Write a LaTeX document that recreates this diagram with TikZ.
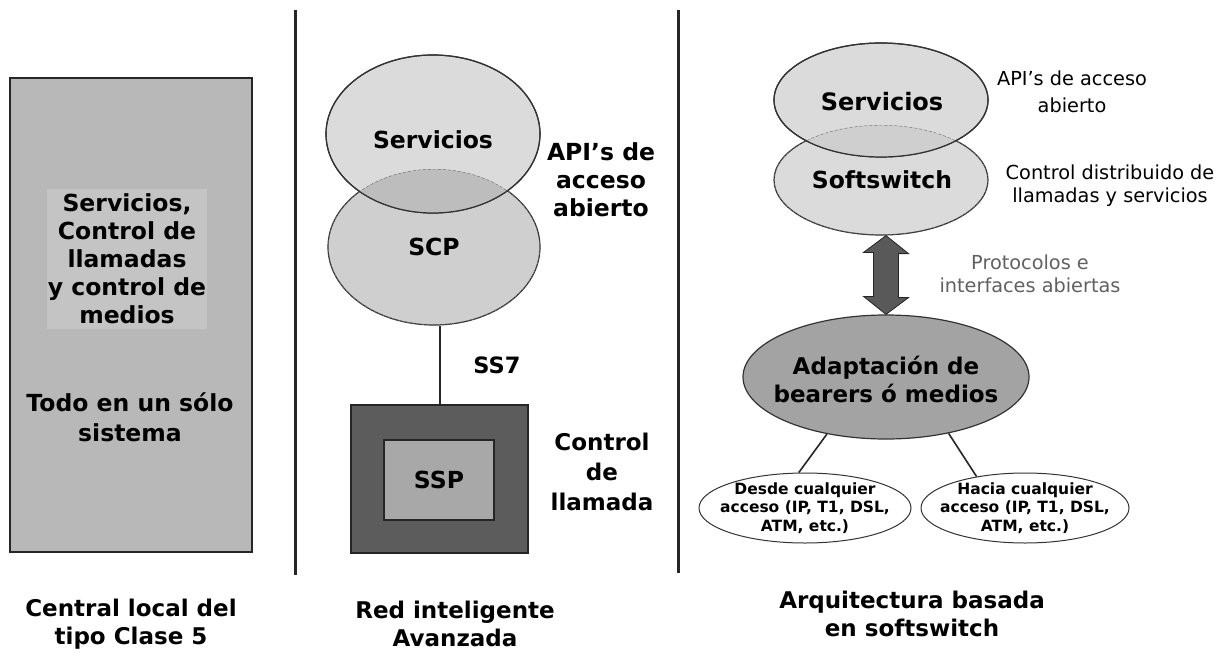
\documentclass[tikz,border=0pt]{standalone}
\usepackage{fontspec}
\setmainfont{DejaVu Sans}
\usetikzlibrary{shapes.geometric,arrows.meta}

\definecolor{boxgray}{gray}{0.72}
\definecolor{boxlight}{gray}{0.77}
\definecolor{servfill}{gray}{0.86}
\definecolor{scpfill}{gray}{0.81}
\definecolor{overlapfill}{gray}{0.74}
\definecolor{sspouter}{gray}{0.36}
\definecolor{sspinner}{gray}{0.66}
\definecolor{adaptfill}{gray}{0.64}
\definecolor{arrowfill}{gray}{0.35}
\definecolor{softtext}{gray}{0.38}

\tikzset{
  bigbold/.style={font=\bfseries\fontsize{23.5}{28}\selectfont, align=center, inner sep=0pt},
  sidebold/.style={font=\bfseries\fontsize{23}{28}\selectfont, align=center, inner sep=0pt},
  sidenote/.style={font=\fontsize{19.3}{23}\selectfont, align=center, inner sep=0pt},
  smallbold/.style={font=\bfseries\fontsize{15.5}{18.5}\selectfont, align=center, inner sep=0pt},
  caption/.style={font=\bfseries\fontsize{23}{28.5}\selectfont, align=center, inner sep=0pt},
  bubble/.style={ellipse, draw=black!80, line width=1.2pt, inner sep=0pt},
  divider/.style={line width=3pt, black!85},
  plainline/.style={line width=2pt, black!85},
}

\begin{document}
\begin{tikzpicture}[x=1pt,y=-1pt]
\useasboundingbox (0,0) rectangle (1225,653);
\fill[white] (0,0) rectangle (1225,653);

% ---------- Clase 5 switch ----------
\node[draw=black!85, line width=1.5pt, fill=boxgray, minimum width=242pt, minimum height=474pt, inner sep=0pt] (c5) at (131,315) {};
\node[bigbold, fill=boxlight, inner xsep=1pt, inner ysep=5pt] (c5txt) at (127,259)
  {Servicios,\\Control de\\llamadas\\y control de\\medios};
\node[bigbold, font=\bfseries\fontsize{23.5}{30}\selectfont] (c5all) at (130,417) {Todo en un sólo\\sistema};

\draw[divider] (295,10) -- (295,575);
\draw[divider] (678,10) -- (678,573);

% ---------- Red inteligente ----------
\node[bubble, fill=scpfill, minimum width=212pt, minimum height=156pt] (scp) at (434,247) {};
\node[bubble, fill=servfill, minimum width=214pt, minimum height=158pt] (srv) at (433,134) {};
\begin{scope}
  \clip (434,247) ellipse [x radius=106, y radius=78];
  \fill[overlapfill] (433,134) ellipse [x radius=107, y radius=79];
  \draw[black!55, line width=0.9pt, dash pattern=on 3pt off 2pt] (434,247) ellipse [x radius=106, y radius=78];
\end{scope}
\draw[black!80, line width=1.2pt] (433,134) ellipse [x radius=107, y radius=79];
\node[bigbold] at (srv.center) [yshift=-6pt] {Servicios};
\node[bigbold] at (scp.center) {SCP};

\node[draw=black!85, line width=1.2pt, fill=sspouter, minimum width=177pt, minimum height=148pt, inner sep=0pt] (sspbox) at (439.5,479) {};
\node[draw=black!85, line width=1.2pt, fill=sspinner, minimum width=110pt, minimum height=80pt, inner sep=0pt] (ssp) at (439,480) {};
\node[bigbold] at (ssp.center) {SSP};
\draw[plainline] (scp.south -| sspbox.north) -- (sspbox.north);
\node[sidebold, font=\bfseries\fontsize{22.5}{28}\selectfont] (ss7) at (497,365) {SS7};

\node[sidebold, font=\bfseries\fontsize{23.5}{28}\selectfont] (apimid) at (601,180) {API’s de\\acceso\\abierto};
\node[sidebold, font=\bfseries\fontsize{23}{30}\selectfont] (ctrl) at (602,472) {Control\\de\\llamada};

% ---------- Softswitch ----------
\node[bubble, fill=servfill, minimum width=214pt, minimum height=110pt] (sw) at (881,180) {};
\node[bubble, fill=servfill, minimum width=214pt, minimum height=114pt] (srv2) at (881,100) {};
\begin{scope}
  \clip (881,180) ellipse [x radius=107, y radius=55];
  \fill[scpfill] (881,100) ellipse [x radius=107, y radius=57];
  \draw[black!55, line width=0.9pt, dash pattern=on 3pt off 2pt] (881,180) ellipse [x radius=107, y radius=55];
\end{scope}
\draw[black!80, line width=1.2pt] (881,100) ellipse [x radius=107, y radius=57];
\node[bigbold, font=\bfseries\fontsize{24}{28}\selectfont] at (882,102) {Servicios};
\node[bigbold] at (882,180) {Softswitch};

\node[sidenote, font=\fontsize{19.3}{27}\selectfont] (api2) at (1072,91.5) {API’s de acceso\\abierto};
\node[sidenote] (dist) at (1110,186) {Control distribuido de\\llamadas y servicios};

\node[bubble, fill=adaptfill, minimum width=286pt, minimum height=124pt] (ad) at (886,377) {};
\node[sidebold] at (ad.center) [yshift=-2pt] {Adaptación de\\bearers ó medios};

% two-headed block arrow between the softswitch and the bearer layer
\coordinate (atop) at (ad.north |- sw.south);
\draw[draw=black!85, fill=arrowfill, line width=0.8pt]
  (atop) -- ++(22.5,18) -- ++(-10,0) -- ++(0,44) -- ++(10,0) -- (ad.north)
  -- ++(-22.5,-18) -- ++(10,0) -- ++(0,-44) -- ++(-10,0) -- cycle;
\node[sidenote, text=softtext] (proto) at (1030,273.5) {Protocolos e\\interfaces abiertas};

\node[bubble, fill=white, line width=1pt, minimum width=212pt, minimum height=70pt] (from) at (805,508) {};
\node[bubble, fill=white, line width=1pt, minimum width=208pt, minimum height=70pt] (to) at (1025,508) {};
\node[smallbold] at (from.center) {Desde cualquier\\acceso (IP, T1, DSL,\\ATM, etc.)};
\node[smallbold] at (to.center) {Hacia cualquier\\acceso (IP, T1, DSL,\\ATM, etc.)};
\draw[plainline, line width=1.6pt] (ad.224.5) -- (from.100);
\draw[plainline, line width=1.6pt] (ad.-42) -- (to.147);

% ---------- Captions ----------
\node[caption] (cap1) at (131,624) {Central local del\\tipo Clase 5};
\node[caption] (cap2) at (455,624) {Red inteligente\\Avanzada};
\node[caption, font=\bfseries\fontsize{23}{28}\selectfont] (cap3) at (912,614) {Arquitectura basada\\en softswitch};
\end{tikzpicture}
\end{document}
